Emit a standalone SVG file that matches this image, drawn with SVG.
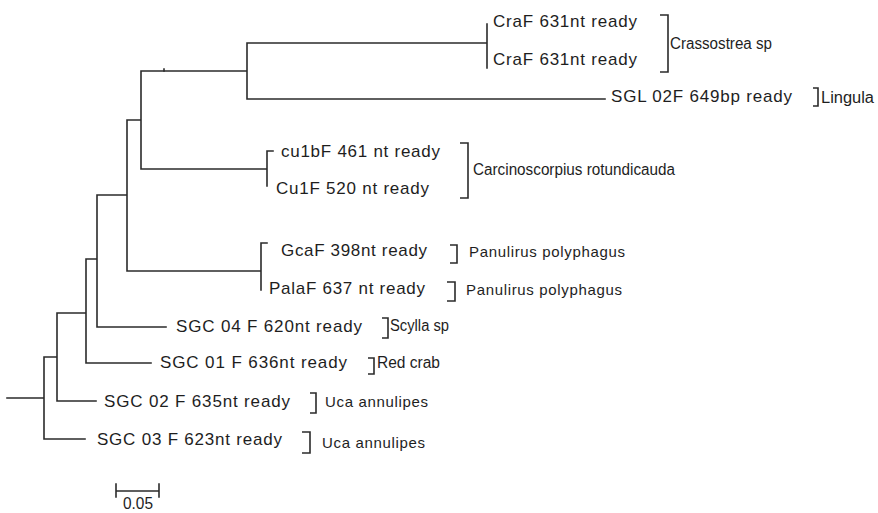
<svg xmlns="http://www.w3.org/2000/svg" width="878" height="513" viewBox="0 0 878 513">
<style>
.ln{stroke:#2b2b2b;stroke-width:1.6;fill:none;stroke-linecap:square}
.br{stroke:#2b2b2b;stroke-width:1.6;fill:none}
.lb{font-family:"Liberation Sans",Arial,sans-serif;font-size:17px;fill:#1e1e1e}
.sp{font-family:"Liberation Sans",Arial,sans-serif;font-size:15px;fill:#1e1e1e}
.cn{font-family:"Liberation Sans",Arial,sans-serif;font-size:16px;fill:#1e1e1e}
</style>
<rect width="878" height="513" fill="#ffffff"/>
<g id="connectors">
<path class="ln" d="M7,398H44M44,357V439M44,439H85M44,357H57M57,313V401M57,401H96M57,313H86M86,259V363M86,363H151M86,259H97M97,195V327M97,327H166M97,195H127M127,120V271M127,271H261M261,243V290M261,243H267M127,120H141M141,71V169M141,169H267M267,151V186M267,151H273M141,71H247M247,43V99M247,43H487M487,24V68M247,99H605"/>
<path class="ln" d="M164,69V71"/>
</g>
<g id="leaf-craf-1"><text class="lb" x="493" y="27" font-size="16" textLength="144" lengthAdjust="spacing">CraF 631nt ready</text></g>
<g id="leaf-craf-2"><text class="lb" x="493" y="65" font-size="16" textLength="144" lengthAdjust="spacing">CraF 631nt ready</text></g>
<g id="leaf-sgl02f"><text class="lb" x="611" y="102" font-size="18" textLength="181" lengthAdjust="spacing">SGL 02F 649bp ready</text></g>
<g id="leaf-cu1bf"><text class="lb" x="281" y="157" textLength="159" lengthAdjust="spacing">cu1bF 461 nt ready</text></g>
<g id="leaf-cu1f"><text class="lb" x="276" y="194" textLength="153" lengthAdjust="spacing">Cu1F 520 nt ready</text></g>
<g id="leaf-gcaf"><text class="lb" x="281" y="256" textLength="146" lengthAdjust="spacing">GcaF 398nt ready</text></g>
<g id="leaf-palaf"><text class="lb" x="269" y="294" textLength="156" lengthAdjust="spacing">PalaF 637 nt ready</text></g>
<g id="leaf-sgc04"><text class="lb" x="176" y="332" textLength="186" lengthAdjust="spacing">SGC 04 F 620nt ready</text></g>
<g id="leaf-sgc01"><text class="lb" x="160" y="368" textLength="187" lengthAdjust="spacing">SGC 01 F 636nt ready</text></g>
<g id="leaf-sgc02"><text class="lb" x="104" y="407" textLength="186" lengthAdjust="spacing">SGC 02 F 635nt ready</text></g>
<g id="leaf-sgc03"><text class="lb" x="97" y="445" textLength="185" lengthAdjust="spacing">SGC 03 F 623nt ready</text></g>
<g id="clade-crassostrea"><path class="br" d="M660,15H668V72H660"/><text class="cn" x="670" y="49" font-size="17" textLength="102" lengthAdjust="spacingAndGlyphs">Crassostrea sp</text></g>
<g id="clade-lingula"><path class="br" d="M813,88H818V106H813"/><text class="cn" x="821" y="103" font-size="17" textLength="53" lengthAdjust="spacingAndGlyphs">Lingula</text></g>
<g id="clade-carcinoscorpius"><path class="br" d="M460,143H468V198H460"/><text class="cn" x="473" y="175" textLength="202" lengthAdjust="spacingAndGlyphs">Carcinoscorpius rotundicauda</text></g>
<g id="clade-panulirus-1"><path class="br" d="M450,245H457V263H450"/><text class="sp" x="469" y="257" font-size="16" textLength="156" lengthAdjust="spacing">Panulirus polyphagus</text></g>
<g id="clade-panulirus-2"><path class="br" d="M447,282H455V301H447"/><text class="sp" x="466" y="295" font-size="16" textLength="156" lengthAdjust="spacing">Panulirus polyphagus</text></g>
<g id="clade-scylla"><path class="br" d="M382,318H388V338H382"/><text class="cn" x="390" y="331" textLength="59" lengthAdjust="spacingAndGlyphs">Scylla sp</text></g>
<g id="clade-redcrab"><path class="br" d="M368,358H374V374H368"/><text class="cn" x="377" y="368" textLength="63" lengthAdjust="spacingAndGlyphs">Red crab</text></g>
<g id="clade-uca-1"><path class="br" d="M310,393H316V413H310"/><text class="sp" x="325" y="407" textLength="103" lengthAdjust="spacing">Uca annulipes</text></g>
<g id="clade-uca-2"><path class="br" d="M302,432H310V453H302"/><text class="sp" x="322" y="448" textLength="103" lengthAdjust="spacing">Uca annulipes</text></g>
<g id="scale-bar"><path class="ln" d="M116,491H159M116,484V497M159,484V497"/><text class="lb" x="123" y="509" font-size="16" textLength="30" lengthAdjust="spacingAndGlyphs">0.05</text></g>
</svg>
